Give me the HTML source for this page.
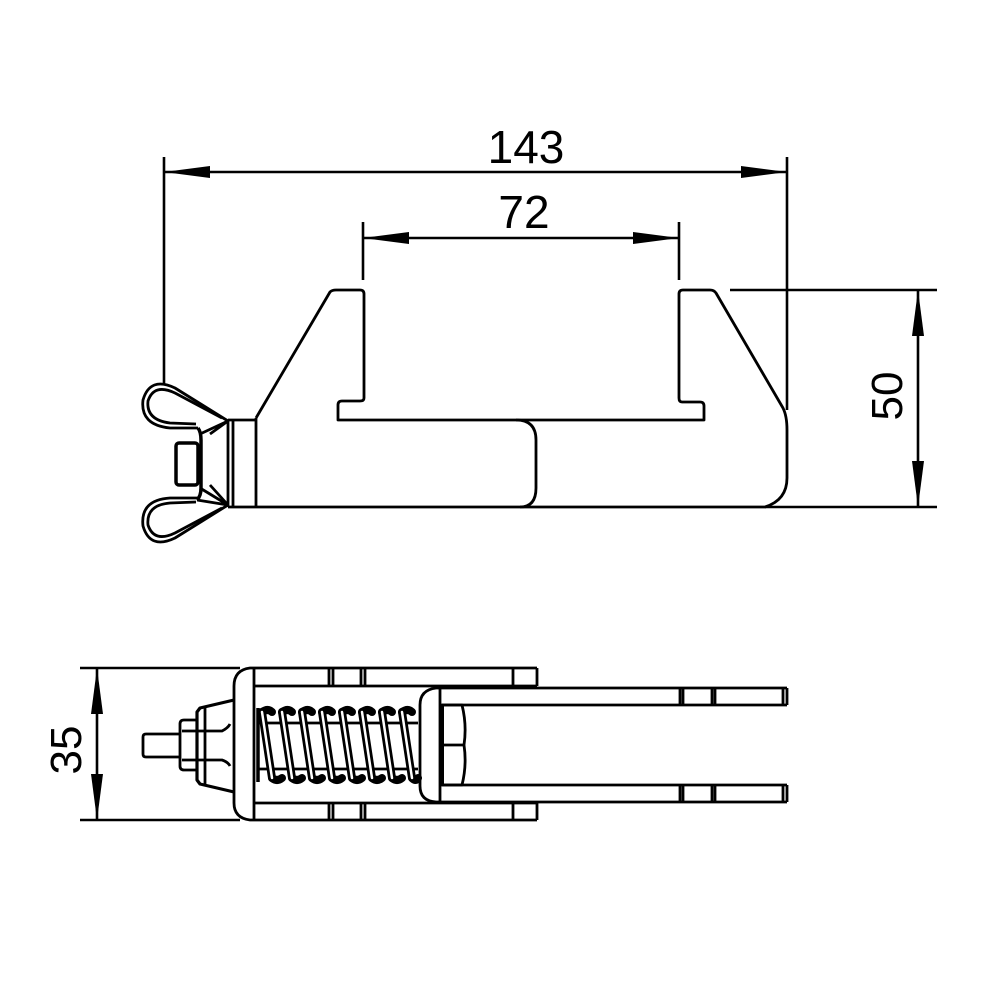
<!DOCTYPE html>
<html><head><meta charset="utf-8"><style>html,body{margin:0;padding:0;background:#fff}svg{display:block}</style></head>
<body>
<svg width="1000" height="1000" viewBox="0 0 1000 1000" xmlns="http://www.w3.org/2000/svg">
<rect width="1000" height="1000" fill="#fff"/>
<g fill="none" stroke="#000" stroke-width="2.6" stroke-linejoin="round">
<line x1="164" y1="157" x2="164" y2="385"/>
<line x1="787" y1="157" x2="787" y2="410"/>
<line x1="164" y1="172" x2="787" y2="172"/>
<line x1="363" y1="222" x2="363" y2="280"/>
<line x1="679" y1="222" x2="679" y2="280"/>
<line x1="363" y1="238" x2="679" y2="238"/>
<line x1="730" y1="290" x2="937" y2="290"/>
<line x1="765" y1="507" x2="937" y2="507"/>
<line x1="918" y1="290" x2="918" y2="507"/>
<line x1="80" y1="668" x2="240" y2="668"/>
<line x1="80" y1="820" x2="240" y2="820"/>
<line x1="97" y1="668" x2="97" y2="820"/>
</g>
<g fill="#000">
<polygon points="164,172 210,166 210,178"/>
<polygon points="787,172 741,166 741,178"/>
<polygon points="363,238 409,232 409,244"/>
<polygon points="679,238 633,232 633,244"/>
<polygon points="918,290 912,336 924,336"/>
<polygon points="918,507 912,461 924,461"/>
<polygon points="97,668 91,714 103,714"/>
<polygon points="97,820 91,774 103,774"/>
</g>
<g font-family="Liberation Sans, sans-serif" fill="#000" text-anchor="middle">
<text x="526" y="163" font-size="46">143</text>
<text x="524" y="228" font-size="46">72</text>
<text transform="translate(902,396) rotate(-90)" font-size="44">50</text>
<text transform="translate(81,750) rotate(-90)" font-size="44">35</text>
</g>
<g fill="none" stroke="#000" stroke-width="2.8" stroke-linejoin="round">
<path d="M256,418 L330,292 Q332,290 336,290 L360,290 Q364,290 364,294 L364,398 Q364,401 360,401 L342,401 Q338,401 338,405 L338,420 L704,420 L704,406 Q704,402 700,402 L682,402 Q679,402 679,398 L679,294 Q679,290 683,290 L710,290 Q714,290 716,293 L783,408 Q787,416 787,430 L787,478 Q787,500 765,507 L228,507"/>
<path d="M516,420 Q536,420 536,440 L536,488 Q536,507 520,507"/>
<line x1="256" y1="418" x2="256" y2="507"/>
<line x1="228" y1="420" x2="256" y2="420"/>
<line x1="228" y1="420" x2="228" y2="507"/>
<line x1="233" y1="420" x2="233" y2="507"/>
<rect x="176" y="443" width="22" height="42" rx="3" stroke-width="3.5"/>
<path d="M198,428 Q201,432 201,440 L201,488 Q201,496 197,500" stroke-width="3.5"/>
<path d="M200,434 L228,421 M200,488 L228,505 M210,434 L228,421"/>
<path d="M228,421 L175,388 Q150,376 143,400 Q140,425 170,428 L198,428"/>
<path d="M222,418 L175,393 Q154,383 148,401 Q146,420 170,423 L196,424"/>
<path d="M228,505 L175,538 Q150,550 143,526 Q140,500 170,498 L198,498"/>
<path d="M222,508 L175,533 Q154,543 148,525 Q146,505 170,503 L196,502"/>
<path d="M197,500 L228,505 M210,485 L228,505"/>
</g>
<g fill="none" stroke="#000" stroke-width="2.8" stroke-linejoin="round">
<path d="M537,668 L250,668 Q234,670 234,686 L234,803 Q234,818 250,820 L537,820"/>
<line x1="537" y1="668" x2="537" y2="686"/>
<line x1="537" y1="803" x2="537" y2="820"/>
<line x1="254" y1="668" x2="254" y2="820"/>
<line x1="254" y1="686" x2="440" y2="686"/>
<line x1="254" y1="803" x2="440" y2="803"/>
<line x1="440" y1="686" x2="537" y2="686"/>
<line x1="440" y1="803" x2="537" y2="803"/>
<path d="M329,668 V686 M333,668 V686 M361,668 V686 M365,668 V686 M513,668 V686"/>
<path d="M329,803 V820 M333,803 V820 M361,803 V820 M365,803 V820 M513,803 V820"/>
<path d="M787,688 L436,688 Q420,690 420,705 L420,786 Q420,801 436,802 L787,802"/>
<line x1="440" y1="688" x2="440" y2="802"/>
<line x1="787" y1="688" x2="787" y2="705"/>
<line x1="787" y1="785" x2="787" y2="802"/>
<line x1="440" y1="705" x2="787" y2="705"/>
<line x1="440" y1="785" x2="787" y2="785"/>
<path d="M680,688 V705 M683,688 V705 M712,688 V705 M715,688 V705 M783,688 V705"/>
<path d="M680,785 V802 M683,785 V802 M712,785 V802 M715,785 V802 M783,785 V802"/>
<line x1="442" y1="705" x2="442" y2="785" stroke-width="4"/>
<path d="M442,705 L462,705 Q467,725 464,745 Q467,765 462,785 L442,785"/>
<line x1="442" y1="745" x2="464" y2="745"/>
<line x1="258" y1="723" x2="418" y2="723"/>
<line x1="258" y1="769" x2="418" y2="769"/>
<line x1="258" y1="708" x2="258" y2="782" stroke-width="3.5"/>
<path d="M180,734 L146,734 Q143,734 143,737 L143,754 Q143,757 146,757 L180,757"/>
<path d="M197,720 L184,720 Q180,720 180,724 L180,766 Q180,770 184,770 L197,770"/>
<path d="M234,700 L200,708 L197,712 L197,780 L200,784 L234,792" stroke-width="3.2"/>
<path d="M205,708 V784"/>
<path d="M182,731 L222,731 Q228,728 230,724 M182,760 L222,760 Q228,762 230,766"/>
</g>
<g fill="none" stroke-linecap="round">
<g stroke="#000" stroke-width="8">
<path d="M262,712 L272,778 M282,712 L292,778 M302,712 L312,778 M322,712 L332,778 M342,712 L352,778 M362,712 L372,778 M382,712 L392,778 M402,712 L412,778"/>
<path d="M262,712 Q268,708 272,712 M282,712 Q288,708 292,712 M302,712 Q308,708 312,712 M322,712 Q328,708 332,712 M342,712 Q348,708 352,712 M362,712 Q368,708 372,712 M382,712 Q388,708 392,712 M402,712 Q408,708 412,712"/>
<path d="M272,778 Q277,782 282,778 M292,778 Q297,782 302,778 M312,778 Q317,782 322,778 M332,778 Q337,782 342,778 M352,778 Q357,782 362,778 M372,778 Q377,782 382,778 M392,778 Q397,782 402,778 M412,778 Q416,782 418,778"/>
</g>
<g stroke="#fff" stroke-width="2.5">
<path d="M262,712 L272,778 M282,712 L292,778 M302,712 L312,778 M322,712 L332,778 M342,712 L352,778 M362,712 L372,778 M382,712 L392,778 M402,712 L412,778"/>
</g>
</g>
</svg>
</body></html>
